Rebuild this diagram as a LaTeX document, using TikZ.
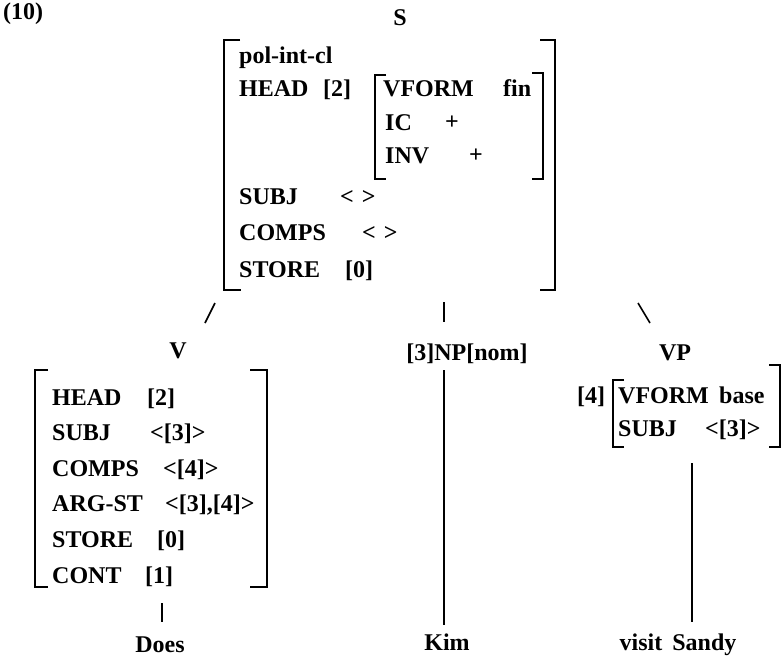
\documentclass[tikz,border=0pt]{standalone}
\usepackage{fontspec}
\setmainfont{Liberation Serif}
\begin{document}
\begin{tikzpicture}[x=1pt,y=-1pt,
  every node/.style={inner sep=0pt,font=\fontsize{24}{28}\selectfont\bfseries},
  tx/.style={anchor=base west},
  cx/.style={anchor=base},
  plus/.style={font=\fontsize{24}{28}\selectfont\bfseries},
  brk/.style={line width=1.6pt},
  branch/.style={line width=1.6pt}]
\useasboundingbox (0,0) rectangle (783,658);

% number
\node[tx] (num) at (3,20) {(10)};

% S node
\node[cx] (S) at (400,26) {S};
% big AVM brackets
\draw[brk] (240,40) -- (224,40) -- (224,290) -- (241,290);
\draw[brk] (540,40) -- (555,40) -- (555,290) -- (540,290);
\node[tx] (s1) at (239,64) {pol-int-cl};
\node[tx] (s2) at (239,97) {HEAD};
\node[tx] (s2v) at (323,97) {[2]};
% inner AVM
\draw[brk] (386,75) -- (375,75) -- (375,179) -- (386,179);
\draw[brk] (532,73) -- (543,73) -- (543,179) -- (532,179);
\node[tx] (h1) at (383,97) {VFORM};
\node[tx] (h1v) at (503,97) {fin};
\node[tx] (h2) at (385,130) {IC};
\node[plus] (h2v) at (452,123) {+};
\node[tx] (h3) at (385,163) {INV};
\node[plus] (h3v) at (476,156) {+};
\node[tx] (s3) at (239,204) {SUBJ};
\node[tx] (s3v) at (340,204) {<\hspace{8pt}>};
\node[tx] (s4) at (239,240) {COMPS};
\node[tx] (s4v) at (362,240) {<\hspace{8pt}>};
\node[tx] (s5) at (239,277) {STORE};
\node[tx] (s5v) at (345,277) {[0]};

% branches under S
\coordinate (bl1) at (215,303); \coordinate (bl2) at (205,323);
\coordinate (bm1) at (444,302); \coordinate (bm2) at (444,322);
\coordinate (br1) at (638,303); \coordinate (br2) at (650,323);
\draw[branch] (bl1) -- (bl2);
\draw[branch] (bm1) -- (bm2);
\draw[branch] (br1) -- (br2);

% V daughter
\node[cx] (V) at (178,358) {V};
\draw[brk] (48,370) -- (35,370) -- (35,587) -- (48,587);
\draw[brk] (250,370) -- (267,370) -- (267,587) -- (250,587);
\node[tx] (v1) at (52,405) {HEAD};
\node[tx] (v1v) at (147,405) {[2]};
\node[tx] (v2) at (52,440) {SUBJ};
\node[tx] (v2v) at (150,440) {<[3]>};
\node[tx] (v3) at (52,476) {COMPS};
\node[tx] (v3v) at (163,476) {<[4]>};
\node[tx] (v4) at (52,511) {ARG-ST};
\node[tx] (v4v) at (165,511) {<[3],[4]>};
\node[tx] (v5) at (52,547) {STORE};
\node[tx] (v5v) at (157,547) {[0]};
\node[tx] (v6) at (52,583) {CONT};
\node[tx] (v6v) at (145,583) {[1]};
\coordinate (vt1) at (162,603); \coordinate (vt2) at (162,622);
\draw[branch] (vt1) -- (vt2);
\node[cx] (does) at (160,652) {Does};

% NP daughter
\node[cx] (np) at (467,360) {[3]NP[nom]};
\coordinate (npl1) at (444,370); \coordinate (npl2) at (444,625);
\draw[branch] (npl1) -- (npl2);
\node[cx] (kim) at (447,650) {Kim};

% VP daughter
\node[cx] (vp) at (675,360) {VP};
\node[tx] (tag4) at (577,403) {[4]};
\draw[brk] (624,380) -- (613,380) -- (613,447) -- (624,447);
\draw[brk] (769,365) -- (780,365) -- (780,447) -- (769,447);
\node[tx] (p1) at (618,403) {VFORM};
\node[tx] (p1v) at (719,403) {base};
\node[tx] (p2) at (618,436) {SUBJ};
\node[tx] (p2v) at (705,436) {<[3]>};
\coordinate (vpl1) at (692,463); \coordinate (vpl2) at (692,622);
\draw[branch] (vpl1) -- (vpl2);
\node[cx] (vs) at (678,650) {visit\hspace{10pt}Sandy};
\end{tikzpicture}
\end{document}
